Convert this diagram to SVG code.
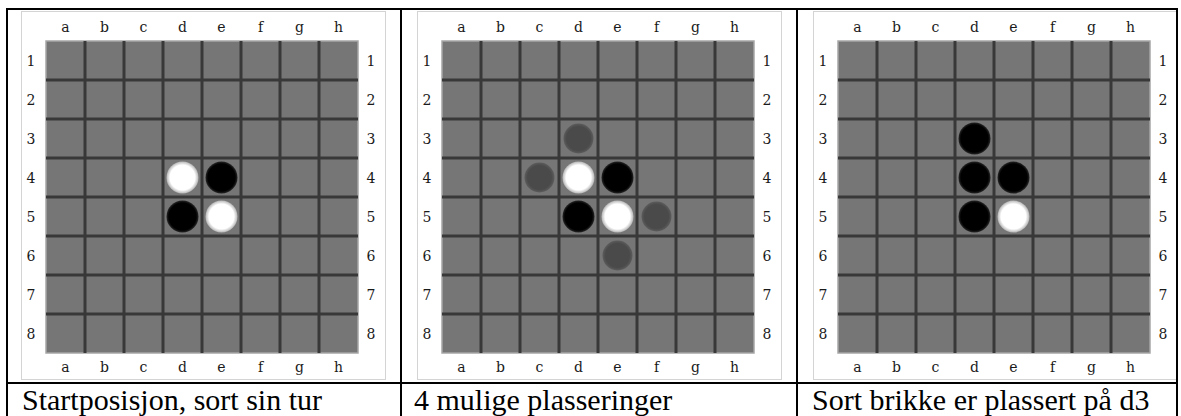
<svg xmlns="http://www.w3.org/2000/svg" width="1181" height="416" viewBox="0 0 1181 416">
<defs>
<radialGradient id="gw"><stop offset="0.78" stop-color="#ffffff"/><stop offset="1" stop-color="#b5b5b5"/></radialGradient>
<radialGradient id="gb"><stop offset="0.85" stop-color="#000000"/><stop offset="1" stop-color="#262626"/></radialGradient>
<radialGradient id="gh"><stop offset="0.8" stop-color="#4a4a4a"/><stop offset="1" stop-color="#5c5c5c"/></radialGradient>
<g id="board">
<rect x="21.5" y="11.5" width="364" height="368" fill="#ffffff" stroke="#d4d4d4"/>
<rect x="46" y="41" width="312" height="312" fill="#767676" stroke="#a6a6a6" stroke-width="1.5"/>
<g stroke="#383838" stroke-width="3">
<path d="M85 41V353M124 41V353M163 41V353M202 41V353M241 41V353M280 41V353M319 41V353"/>
<path d="M46 80H358M46 119H358M46 158H358M46 197H358M46 236H358M46 275H358M46 314H358"/>
</g>
<g class="lbl" text-anchor="middle">
<text x="65.5" y="32">a</text><text x="104.5" y="32">b</text><text x="143.5" y="32">c</text><text x="182.5" y="32">d</text><text x="221.5" y="32">e</text><text x="260.5" y="32">f</text><text x="299.5" y="32">g</text><text x="338.5" y="32">h</text>
<text x="65.5" y="372">a</text><text x="104.5" y="372">b</text><text x="143.5" y="372">c</text><text x="182.5" y="372">d</text><text x="221.5" y="372">e</text><text x="260.5" y="372">f</text><text x="299.5" y="372">g</text><text x="338.5" y="372">h</text>
<text x="31" y="66">1</text><text x="31" y="105">2</text><text x="31" y="144">3</text><text x="31" y="183">4</text><text x="31" y="222">5</text><text x="31" y="261">6</text><text x="31" y="300">7</text><text x="31" y="339">8</text>
<text x="371" y="66">1</text><text x="371" y="105">2</text><text x="371" y="144">3</text><text x="371" y="183">4</text><text x="371" y="222">5</text><text x="371" y="261">6</text><text x="371" y="300">7</text><text x="371" y="339">8</text>
</g>
</g>
</defs>
<style>
.lbl text{font-family:"DejaVu Serif","Liberation Serif",serif;font-size:14px;fill:#1a1a1a}
.cap{font-family:"Liberation Serif","Times New Roman",serif;font-size:30px;fill:#000}
.w{fill:url(#gw)}
.b{fill:url(#gb)}
.h{fill:url(#gh)}
</style>
<rect width="1181" height="416" fill="#ffffff"/>
<g id="panel1">
<use href="#board"/>
<circle class="w" cx="182.5" cy="177.5" r="16"/>
<circle class="b" cx="221.5" cy="177.5" r="16"/>
<circle class="b" cx="182.5" cy="216.5" r="16"/>
<circle class="w" cx="221.5" cy="216.5" r="16"/>
<text class="cap" x="22" y="410">Startposisjon, sort sin tur</text>
</g>
<g id="panel2" transform="translate(396,0)">
<use href="#board"/>
<circle class="h" cx="182.5" cy="138.5" r="15"/>
<circle class="h" cx="143.5" cy="177.5" r="15"/>
<circle class="w" cx="182.5" cy="177.5" r="16"/>
<circle class="b" cx="221.5" cy="177.5" r="16"/>
<circle class="b" cx="182.5" cy="216.5" r="16"/>
<circle class="w" cx="221.5" cy="216.5" r="16"/>
<circle class="h" cx="260.5" cy="216.5" r="15"/>
<circle class="h" cx="221.5" cy="255.5" r="15"/>
<text class="cap" x="18" y="410">4 mulige plasseringer</text>
</g>
<g id="panel3" transform="translate(792,0)">
<use href="#board"/>
<circle class="b" cx="182.5" cy="138.5" r="16"/>
<circle class="b" cx="182.5" cy="177.5" r="16"/>
<circle class="b" cx="221.5" cy="177.5" r="16"/>
<circle class="b" cx="182.5" cy="216.5" r="16"/>
<circle class="w" cx="221.5" cy="216.5" r="16"/>
<text class="cap" x="20" y="410">Sort brikke er plassert på d3</text>
</g>
<g id="connectors" stroke="#000" stroke-width="2" fill="none">
<path d="M6 9H1178M7 8V416M1177 8V416M401 8V416M797 8V416M6 383H1178"/>
</g>
</svg>
